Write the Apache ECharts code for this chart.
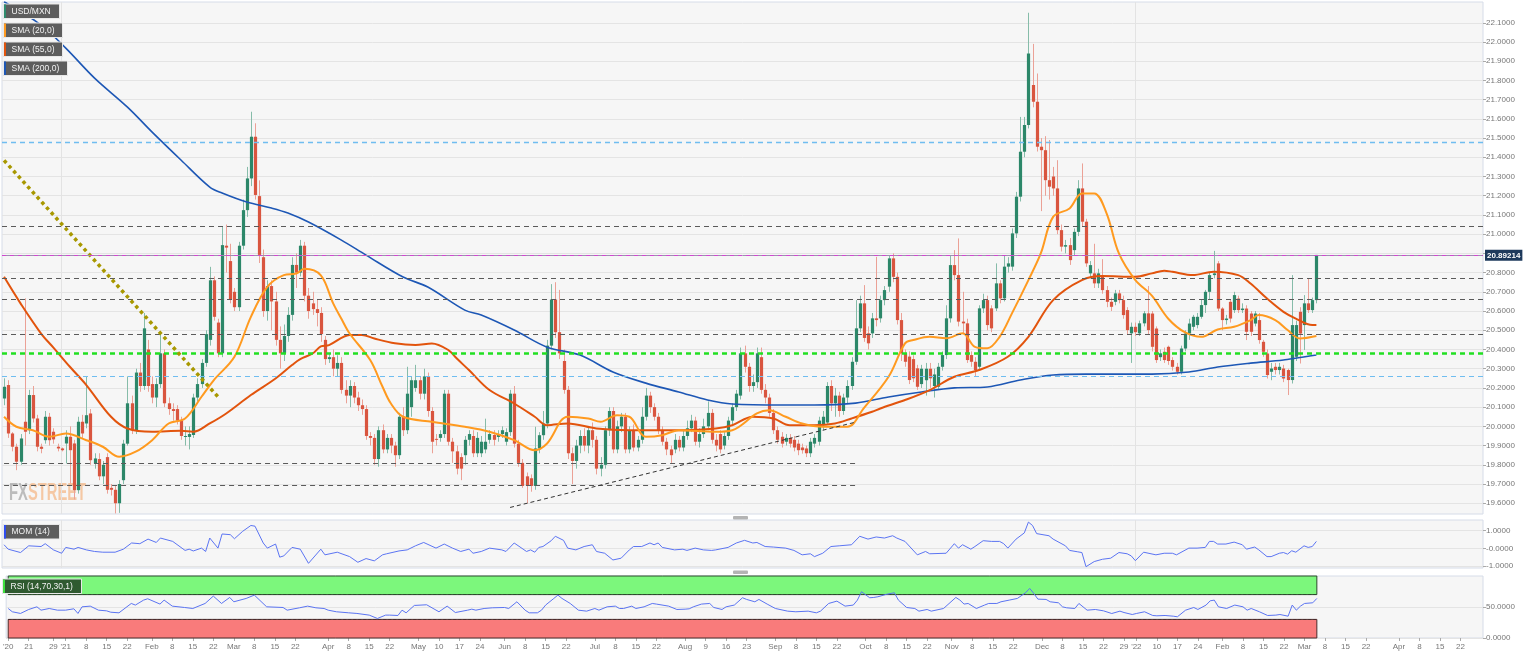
<!DOCTYPE html>
<html><head><meta charset="utf-8">
<script src="https://cdn.jsdelivr.net/npm/echarts@6/dist/echarts.min.js"></script>
<style>html,body{margin:0;padding:0;background:#fff}#c{width:1536px;height:657px}</style>
</head><body><div id="c"></div>
<script>
// ---------------- DATA ----------------
const firstDay = [2020, 11, 14]; // Dec 14 2020 (weekday categories)
const nCategories = 360;

// daily candles [open, close, low, high]
const ohlc = [
[20.145,20.206,20.11,20.25],[20.215,19.963,19.94,20.24],[19.963,19.894,19.87,19.97],[19.894,19.816,19.772,19.91],[19.816,19.937,19.80,19.96],
[20.024,19.972,19.90,20.666],[19.98,20.163,19.96,20.19],[20.163,20.041,20.02,20.21],[20.041,19.894,19.87,20.06],[19.894,19.883,19.86,19.91],
[19.928,20.05,19.91,20.08],[20.05,19.928,19.90,20.07],[19.972,19.932,19.91,19.99],[19.894,19.885,19.87,19.91],[19.885,19.876,19.87,19.89],
[19.911,19.946,19.807,19.98],[19.946,19.876,19.703,20.00],[19.911,19.668,19.62,19.93],[19.668,20.024,19.65,20.05],[20.024,19.963,19.94,20.06],
[20.015,20.058,19.99,20.258],[20.067,19.824,19.80,20.09],[19.807,19.833,19.78,19.86],[19.83,19.74,19.72,19.86],[19.74,19.80,19.70,19.82],
[19.84,19.67,19.65,19.86],[19.68,19.67,19.64,19.70],[19.67,19.60,19.547,19.69],[19.60,19.70,19.55,19.72],[19.72,19.91,19.70,19.93],
[19.91,20.12,19.90,20.26],[20.12,19.98,19.96,20.16],[19.98,20.28,19.96,20.30],[20.28,20.21,20.18,20.33],[20.21,20.51,20.19,20.59],
[20.40,20.21,20.18,20.45],[20.22,20.15,20.12,20.26],[20.15,20.22,20.10,20.25],[20.22,20.38,20.20,20.48],[20.38,20.12,20.10,20.40],
[20.12,20.09,20.06,20.15],[20.09,20.08,20.03,20.12],[20.09,20.03,20.01,20.11],[20.03,19.95,19.93,20.05],[19.95,19.95,19.90,20.00],
[19.945,19.96,19.88,20.00],[19.955,20.15,19.94,20.17],[20.15,20.22,20.13,20.25],[20.22,20.33,20.20,20.35],[20.33,20.48,20.31,20.50],
[20.45,20.76,20.42,20.83],[20.76,20.57,20.55,20.78],[20.54,20.38,20.36,20.56],[20.38,20.943,20.36,21.04],[20.94,20.93,20.80,21.05],
[20.86,20.66,20.64,20.95],[20.70,20.62,20.60,20.72],[20.62,20.94,20.60,20.96],[20.94,21.125,20.92,21.18],[21.125,21.29,21.09,21.35],
[21.29,21.507,21.25,21.637],[21.507,21.204,21.18,21.577],[21.198,20.892,20.85,21.28],[20.88,20.60,20.57,20.92],[20.60,20.73,20.55,20.76],
[20.73,20.65,20.50,20.76],[20.65,20.45,20.42,20.70],[20.45,20.38,20.30,20.52],[20.38,20.47,20.34,20.53],[20.47,20.58,20.44,20.62],
[20.58,20.84,20.55,20.88],[20.84,20.80,20.72,20.90],[20.80,20.94,20.78,20.97],[20.94,20.68,20.65,20.96],[20.68,20.60,20.56,20.72],
[20.64,20.61,20.58,20.70],[20.61,20.59,20.52,20.66],[20.59,20.48,20.44,20.62],[20.45,20.35,20.32,20.47],[20.35,20.36,20.33,20.38],
[20.36,20.30,20.26,20.40],[20.30,20.33,20.26,20.37],[20.33,20.19,20.17,20.36],[20.19,20.16,20.12,20.24],[20.16,20.21,20.10,20.24],
[20.21,20.15,20.12,20.23],[20.15,20.11,20.08,20.18],[20.11,20.09,20.06,20.14],[20.09,19.95,19.93,20.11],[19.95,19.94,19.90,19.97],
[19.94,19.83,19.80,19.96],[19.83,19.98,19.79,20.00],[19.98,19.88,19.86,20.01],[19.88,19.94,19.86,19.96],[19.94,19.90,19.86,19.96],
[19.90,19.85,19.79,19.92],[19.85,20.05,19.83,20.07],[20.05,19.98,19.95,20.10],[19.98,20.17,19.96,20.31],[20.10,20.24,20.05,20.26],
[20.20,20.24,20.18,20.32],[20.24,20.17,20.14,20.26],[20.17,20.26,20.14,20.30],[20.26,20.08,20.05,20.28],[20.08,19.92,19.86,20.10],
[19.935,19.93,19.90,19.96],[19.94,19.96,19.92,19.98],[19.96,20.17,19.94,20.19],[20.17,19.92,19.90,20.19],[19.92,19.87,19.81,19.94],
[19.87,19.78,19.75,19.90],[19.84,19.78,19.72,19.86],[19.85,19.93,19.80,19.95],[19.93,19.96,19.90,19.98],[19.95,19.86,19.84,19.98],
[19.86,19.94,19.84,19.97],[19.86,19.92,19.84,19.95],[19.88,19.92,19.86,20.04],[19.93,19.96,19.91,19.98],[19.955,19.93,19.90,19.98],
[19.945,19.96,19.92,19.98],[19.96,19.98,19.94,20.00],[19.92,19.97,19.90,19.99],[19.97,20.17,19.95,20.19],[20.17,19.91,19.89,20.21],
[19.91,19.81,19.79,19.93],[19.81,19.69,19.68,19.83],[19.74,19.69,19.60,19.76],[19.73,19.69,19.66,19.75],[19.69,19.885,19.67,19.998],
[19.885,19.954,19.86,19.97],[19.954,20.015,19.93,20.08],[20.015,20.42,19.99,20.45],[20.42,20.66,20.40,20.74],[20.66,20.49,20.46,20.75],
[20.49,20.38,20.35,20.71],[20.34,20.19,20.17,20.40],[20.19,19.86,19.83,20.21],[19.86,19.82,19.70,19.89],[19.82,19.90,19.78,19.93],
[19.90,19.95,19.86,19.98],[19.95,19.90,19.87,19.99],[19.90,19.98,19.86,20.00],[19.98,19.93,19.89,20.02],[19.93,19.78,19.75,19.95],
[19.78,19.80,19.74,19.84],[19.80,19.98,19.78,20.00],[19.98,20.08,19.95,20.10],[20.08,19.88,19.86,20.10],[19.88,20.00,19.86,20.03],
[20.00,20.05,19.97,20.07],[20.05,19.88,19.86,20.07],[19.88,19.98,19.86,20.00],[19.98,19.89,19.87,20.01],[19.89,19.93,19.87,19.95],
[19.93,20.05,19.91,20.10],[20.05,20.16,20.03,20.20],[20.16,20.10,20.07,20.18],[20.10,20.05,20.03,20.12],[20.05,19.98,19.96,20.07],
[19.98,19.92,19.90,20.00],[19.92,19.88,19.85,19.94],[19.88,19.85,19.81,19.90],[19.88,19.93,19.86,19.96],[19.93,19.89,19.87,19.95],
[19.89,19.95,19.87,19.98],[19.95,19.99,19.93,20.03],[19.99,20.03,19.97,20.06],[20.03,19.92,19.90,20.05],[19.92,19.96,19.89,19.99],
[19.96,20.00,19.94,20.04],[20.00,20.07,19.98,20.13],[20.07,19.93,19.91,20.09],[19.93,19.90,19.87,19.96],[19.96,19.88,19.86,19.98],
[19.90,19.95,19.88,19.97],[19.95,20.03,19.93,20.05],[20.03,20.10,20.01,20.12],[20.10,20.17,20.08,20.19],[20.16,20.38,20.14,20.41],
[20.38,20.31,20.28,20.42],[20.31,20.21,20.18,20.33],[20.21,20.23,20.18,20.27],[20.23,20.38,20.20,20.41],[20.36,20.19,20.17,20.41],
[20.19,20.15,20.12,20.22],[20.15,20.07,20.05,20.17],[20.07,19.98,19.96,20.09],[19.98,19.93,19.91,20.00],[19.946,19.91,19.89,19.97],
[19.92,19.94,19.90,19.96],[19.94,19.91,19.89,19.96],[19.93,19.89,19.87,19.95],[19.91,19.876,19.85,19.93],[19.89,19.876,19.858,19.91],
[19.885,19.86,19.84,19.90],[19.86,19.92,19.84,19.94],[19.91,19.94,19.89,19.96],[19.92,20.03,19.90,20.05],[20.01,20.05,19.98,20.08],
[20.02,20.21,20.01,20.23],[20.21,20.12,20.08,20.24],[20.12,20.16,20.05,20.20],[20.16,20.08,20.05,20.18],[20.08,20.15,20.06,20.17],
[20.15,20.21,20.12,20.24],[20.21,20.336,20.19,20.36],[20.336,20.51,20.32,20.657],[20.51,20.64,20.49,20.68],[20.64,20.46,20.44,20.735],
[20.484,20.432,20.40,20.52],[20.484,20.562,20.46,20.59],[20.562,20.553,20.52,20.882],[20.562,20.657,20.54,20.68],[20.657,20.709,20.63,20.73],
[20.727,20.874,20.70,20.89],[20.874,20.778,20.75,20.90],[20.778,20.553,20.53,20.80],[20.553,20.38,20.34,20.59],[20.38,20.336,20.31,20.40],
[20.363,20.241,20.22,20.39],[20.35,20.25,20.23,20.37],[20.302,20.206,20.19,20.32],[20.22,20.30,20.20,20.32],[20.24,20.30,20.16,20.33],
[20.30,20.25,20.20,20.33],[20.21,20.27,20.15,20.30],[20.206,20.31,20.19,20.33],[20.31,20.371,20.29,20.39],[20.371,20.562,20.35,20.63],
[20.562,20.839,20.54,20.891],[20.839,20.787,20.76,20.917],[20.787,20.545,20.52,20.978],[20.545,20.536,20.48,20.70],[20.536,20.345,20.33,20.56],
[20.371,20.336,20.31,20.39],[20.336,20.293,20.258,20.36],[20.31,20.614,20.29,20.63],[20.614,20.657,20.59,20.69],[20.657,20.527,20.50,20.68],
[20.614,20.51,20.49,20.63],[20.614,20.744,20.60,20.848],[20.744,20.666,20.64,20.76],[20.666,20.831,20.65,20.891],[20.831,20.848,20.80,20.88],
[20.831,21.004,20.81,21.03],[21.004,21.195,20.98,21.22],[21.195,21.429,21.17,21.61],[21.429,21.568,21.40,21.61],[21.568,21.94,21.55,22.152],
[21.776,21.689,21.66,21.99],[21.689,21.455,21.43,21.836],[21.455,21.437,21.12,21.50],[21.437,21.281,21.20,21.51],[21.281,21.247,21.18,21.49],
[21.30,21.238,21.20,21.35],[21.238,21.021,21.00,21.385],[21.021,20.935,20.91,21.05],[20.935,20.943,20.90,20.97],[20.943,20.865,20.84,20.98],
[20.917,21.012,20.89,21.03],[21.012,21.238,20.99,21.281],[21.238,21.065,21.04,21.368],[21.065,20.848,20.83,21.08],[20.796,20.839,20.77,20.86],
[20.796,20.744,20.72,20.95],[20.744,20.796,20.72,20.82],[20.787,20.709,20.69,20.87],[20.709,20.648,20.62,20.73],[20.648,20.622,20.60,20.67],
[20.648,20.692,20.63,20.71],[20.692,20.657,20.64,20.71],[20.657,20.579,20.56,20.68],[20.605,20.501,20.48,20.62],[20.484,20.518,20.33,20.54],
[20.518,20.49,20.47,20.54],[20.484,20.536,20.47,20.55],[20.536,20.588,20.52,20.60],[20.588,20.501,20.48,20.73],[20.587,20.414,20.39,20.60],
[20.509,20.345,20.33,20.52],[20.36,20.38,20.34,20.40],[20.388,20.345,20.33,20.41],[20.414,20.34,20.32,20.42],[20.345,20.31,20.29,20.36],
[20.31,20.284,20.27,20.33],[20.284,20.405,20.27,20.42],[20.405,20.483,20.39,20.50],[20.483,20.535,20.45,20.56],[20.518,20.57,20.50,20.58],
[20.527,20.57,20.51,20.59],[20.57,20.631,20.56,20.66],[20.631,20.70,20.59,20.71],[20.70,20.787,20.66,20.80],[20.787,20.796,20.77,20.913],
[20.848,20.613,20.60,20.86],[20.613,20.553,20.50,20.62],[20.553,20.561,20.53,20.58],[20.648,20.561,20.54,20.66],[20.605,20.683,20.59,20.70],
[20.665,20.605,20.59,20.68],[20.605,20.613,20.59,20.64],[20.613,20.492,20.449,20.63],[20.587,20.492,20.47,20.60],[20.535,20.587,20.52,20.60],
[20.553,20.449,20.43,20.59],[20.44,20.388,20.362,20.45],[20.379,20.267,20.249,20.40],[20.284,20.301,20.24,20.33],[20.31,20.293,20.27,20.33],
[20.293,20.31,20.27,20.33],[20.301,20.249,20.23,20.32],[20.293,20.241,20.163,20.30],[20.241,20.527,20.223,20.787],[20.362,20.527,20.34,20.55],
[20.596,20.483,20.327,20.62],[20.527,20.64,20.397,20.683],[20.64,20.605,20.59,20.77],[20.605,20.657,20.59,20.67],[20.657,20.892,20.64,20.892]
];

// moving averages: [dayIndex, value]
const sma20 = [[0,20.05],[3,19.998],[7,19.98],[11,19.946],[15,19.963],[20,19.928],[24,19.894],[28,19.842],[32,19.868],[36,19.928],[40,20.015],[44,20.041],[48,20.154],[51,20.241],[56,20.362],[60,20.57],[64,20.726],[68,20.787],[71,20.795],[73,20.82],[77,20.786],[80,20.64],[82,20.56],[84,20.483],[89,20.345],[92,20.206],[94,20.12],[97,20.05],[104,20.024],[112,19.998],[118,19.972],[124,19.928],[129,19.876],[132,19.911],[137,20.05],[142,20.041],[145,20.024],[149,20.058],[152,20.05],[156,19.946],[160,19.954],[164,19.98],[173,19.972],[177,19.98],[183,20.067],[186,20.084],[190,20.05],[194,20.015],[199,19.998],[205,19.998],[209,20.095],[215,20.258],[219,20.432],[221,20.449],[225,20.466],[229,20.458],[233,20.484],[236,20.414],[239,20.406],[242,20.466],[245,20.588],[249,20.761],[252,20.9],[255,21.09],[259,21.134],[262,21.212],[265,21.212],[268,21.108],[271,20.9],[275,20.761],[279,20.68],[283,20.56],[287,20.49],[291,20.466],[295,20.504],[299,20.518],[303,20.553],[305,20.579],[309,20.553],[312,20.501],[315,20.457],[319,20.47]];
const sma55 = [[0,20.778],[4,20.64],[9,20.483],[12,20.41],[16,20.31],[20,20.215],[26,20.05],[30,19.989],[36,19.972],[43,19.977],[46,19.972],[50,20.015],[54,20.067],[60,20.163],[66,20.249],[70,20.319],[72,20.35],[75,20.379],[77,20.416],[79,20.423],[84,20.475],[87,20.476],[90,20.457],[95,20.432],[100,20.423],[104,20.431],[108,20.397],[110,20.354],[113,20.293],[118,20.189],[124,20.119],[129,20.05],[132,20.006],[137,20.015],[144,19.989],[152,19.98],[165,19.98],[173,19.989],[177,20.006],[182,20.05],[187,20.041],[191,20.006],[197,20.006],[202,20.015],[206,20.041],[211,20.076],[213,20.093],[219,20.137],[225,20.189],[231,20.258],[237,20.293],[244,20.362],[249,20.466],[255,20.657],[262,20.761],[267,20.782],[275,20.778],[279,20.796],[282,20.81],[284,20.804],[289,20.787],[294,20.805],[300,20.787],[303,20.743],[307,20.665],[311,20.596],[314,20.561],[318,20.527],[319,20.527]];
const sma200 = [[0,22.209],[9,22.088],[15,21.968],[22,21.812],[30,21.661],[36,21.531],[43,21.386],[50,21.245],[53,21.214],[59,21.167],[65,21.136],[69,21.11],[74,21.063],[82,20.969],[88,20.891],[97,20.777],[103,20.725],[112,20.605],[116,20.579],[124,20.501],[132,20.412],[140,20.371],[148,20.283],[156,20.225],[164,20.179],[171,20.137],[177,20.116],[189,20.111],[197,20.111],[207,20.121],[215,20.153],[223,20.179],[231,20.2],[239,20.205],[247,20.241],[255,20.267],[263,20.272],[271,20.272],[279,20.272],[288,20.283],[295,20.309],[303,20.329],[311,20.345],[319,20.371]];

// oscillators: [dayIndex, value]
const mom14 = [[0,0.2],[1,-0.05],[4,-0.24],[6,0.14],[9,0.10],[10,0.26],[12,-0.09],[14,-0.28],[15,0.05],[17,-0.05],[18,0.05],[20,-0.09],[22,-0.18],[24,-0.22],[27,-0.22],[29,-0.05],[31,0.30],[33,0.26],[35,0.52],[37,0.33],[38,0.58],[41,0.39],[44,-0.12],[45,-0.05],[46,-0.15],[48,0.01],[49,-0.18],[50,0.58],[52,0.01],[53,0.81],[55,0.77],[56,0.54],[58,0.96],[60,1.29],[61,1.25],[63,0.30],[64,0.01],[66,0.24],[67,-0.50],[68,-0.43],[70,0.05],[72,-0.05],[74,-0.85],[77,-0.05],[78,-0.37],[81,-0.22],[84,-0.47],[86,-0.79],[88,-0.58],[90,-0.71],[92,-0.37],[93,-0.31],[96,-0.15],[98,-0.09],[100,0.14],[102,0.33],[105,0.01],[107,0.24],[109,0.01],[111,-0.18],[113,-0.05],[114,-0.28],[116,-0.18],[118,0.01],[121,-0.09],[122,-0.18],[124,0.30],[127,-0.18],[128,-0.09],[129,-0.22],[130,0.05],[131,0.10],[133,0.43],[134,0.68],[136,0.45],[137,0.01],[139,-0.09],[141,0.10],[143,0.20],[144,-0.18],[146,-0.28],[148,-0.66],[150,-0.56],[152,-0.09],[153,0.10],[155,0.10],[157,0.30],[158,0.20],[159,0.30],[160,0.05],[163,-0.09],[165,-0.05],[166,-0.12],[168,0.01],[170,-0.09],[172,-0.12],[173,-0.09],[176,0.05],[178,0.30],[180,0.45],[182,0.30],[183,0.33],[185,0.10],[187,0.07],[190,0.01],[192,-0.12],[194,-0.37],[196,-0.31],[197,-0.47],[199,-0.28],[201,0.10],[203,0.14],[206,0.20],[208,0.68],[210,0.52],[212,0.64],[214,0.58],[216,0.71],[217,0.58],[219,0.39],[222,-0.37],[224,-0.18],[225,-0.31],[229,-0.28],[231,0.26],[232,0.01],[233,0.20],[235,-0.05],[236,0.10],[238,0.43],[240,0.39],[242,0.39],[243,0.26],[244,0.01],[246,0.52],[248,0.87],[249,1.48],[250,1.29],[251,0.83],[254,0.71],[255,0.52],[258,0.14],[259,-0.12],[261,-0.20],[262,-0.24],[263,-1.04],[265,-0.75],[267,-0.62],[269,-0.56],[271,-0.24],[273,-0.31],[274,-0.43],[275,-0.70],[277,-0.22],[280,-0.37],[282,-0.28],[284,-0.28],[285,-0.37],[288,0.01],[290,0.01],[292,0.05],[293,0.39],[294,0.39],[295,0.24],[297,0.24],[299,0.35],[301,0.20],[302,-0.05],[304,0.07],[305,-0.09],[307,-0.47],[308,-0.47],[310,-0.28],[311,-0.24],[312,-0.33],[313,-0.14],[314,-0.22],[316,0.14],[317,0.05],[318,0.10],[319,0.39]];
const rsi14 = [[0,47.6],[1,42.3],[3,39.6],[5,46.0],[7,50.3],[8,44.9],[10,47.6],[12,44.9],[14,44.9],[16,47.1],[17,39.6],[18,50.3],[20,51.4],[22,44.9],[24,43.8],[25,41.6],[27,40.6],[30,55.7],[31,53.1],[33,61.1],[34,63.3],[37,54.7],[38,61.1],[40,51.4],[43,49.2],[45,47.6],[48,55.7],[50,67.6],[52,55.7],[54,65.4],[55,58.4],[58,63.8],[60,69.2],[63,50.3],[67,49.2],[68,44.9],[71,48.7],[73,51.4],[75,48.7],[77,47.6],[78,44.9],[80,42.3],[83,40.6],[85,39.6],[88,36.9],[90,31.5],[92,36.9],[93,36.9],[95,36.3],[96,44.9],[97,40.6],[99,52.5],[102,53.6],[105,42.3],[107,51.4],[109,41.1],[112,44.9],[113,46.5],[114,44.9],[116,47.6],[118,48.7],[121,49.2],[122,47.6],[124,58.4],[126,44.9],[127,40.6],[129,40.6],[130,44.9],[131,53.1],[133,63.8],[134,69.2],[135,63.8],[137,55.7],[139,44.9],[141,43.3],[143,47.6],[144,44.9],[146,50.3],[148,51.4],[149,47.6],[150,47.6],[152,51.4],[153,47.6],[155,50.3],[157,55.7],[158,54.7],[161,51.4],[163,46.0],[165,46.5],[166,47.1],[167,50.3],[169,54.7],[171,55.7],[172,49.2],[174,46.0],[175,50.3],[177,53.1],[179,64.9],[180,62.2],[182,58.4],[183,62.2],[185,54.7],[187,47.6],[190,43.3],[192,42.3],[195,43.3],[197,40.6],[198,43.3],[200,55.7],[202,59.5],[204,51.4],[206,53.1],[207,61.1],[208,74.6],[210,64.9],[211,65.4],[212,66.5],[214,70.3],[216,73.0],[217,61.1],[219,49.2],[221,47.6],[222,43.3],[224,46.0],[225,43.3],[228,47.6],[231,65.4],[232,61.1],[233,54.7],[234,55.7],[236,47.6],[238,53.1],[239,55.7],[241,55.7],[242,58.4],[244,61.1],[246,63.8],[248,73.0],[249,80.0],[250,71.9],[251,62.7],[253,62.2],[254,58.4],[256,56.8],[257,50.3],[258,48.7],[260,47.6],[261,55.7],[263,44.9],[265,46.0],[267,43.8],[269,39.5],[271,43.3],[272,41.1],[274,37.9],[275,39.5],[277,42.3],[279,36.3],[280,35.8],[282,36.3],[284,35.2],[285,34.2],[287,44.9],[289,49.2],[290,46.0],[292,53.1],[293,60.0],[294,61.1],[295,50.3],[297,47.6],[299,53.1],[301,50.3],[302,44.9],[303,47.6],[305,42.3],[307,36.3],[309,36.9],[310,37.9],[312,35.2],[313,53.1],[314,44.9],[315,51.4],[316,55.7],[318,56.8],[319,63.8]];

// horizontal levels and trend lines
const levelsFull = [21.481, 21.044, 20.775, 20.664, 20.482, 20.383, 20.263];
const levelsShort = [19.809, 19.696];
const lastPrice = 20.89214;
const trendDown = [[0, 21.384], [52, 20.154]];
const trendUp = [[123, 19.578], [207, 20.022]];
const yearStarts = [14, 275];

// axis tick labels
const priceTicks = [19.6,19.7,19.8,19.9,20.0,20.1,20.2,20.3,20.4,20.5,20.6,20.7,20.8,20.9,21.0,21.1,21.2,21.3,21.4,21.5,21.6,21.7,21.8,21.9,22.0,22.1];
const momTicks = [-1, 0, 1];
const rsiTicks = [0, 50];
const xLabels = [[0,"'20"],[5,"21"],[11,"29"],[14,"'21"],[19,"8"],[24,"15"],[29,"22"],[35,"Feb"],[40,"8"],[45,"15"],[50,"22"],[55,"Mar"],[60,"8"],[65,"15"],[70,"22"],[78,"Apr"],[83,"8"],[88,"15"],[93,"22"],[100,"May"],[105,"10"],[110,"17"],[115,"24"],[121,"Jun"],[126,"8"],[131,"15"],[136,"22"],[143,"Jul"],[148,"8"],[153,"15"],[158,"22"],[165,"Aug"],[170,"9"],[175,"16"],[180,"23"],[187,"Sep"],[192,"8"],[197,"15"],[202,"22"],[209,"Oct"],[214,"8"],[219,"15"],[224,"22"],[230,"Nov"],[235,"8"],[240,"15"],[245,"22"],[252,"Dec"],[257,"8"],[262,"15"],[267,"22"],[272,"29"],[275,"'22"],[280,"10"],[285,"17"],[290,"24"],[296,"Feb"],[301,"8"],[306,"15"],[311,"22"],[316,"Mar"],[321,"8"],[326,"15"],[331,"22"],[339,"Apr"],[344,"8"],[349,"15"],[354,"22"]];

// ---------------- CHART ----------------
const cats = [];
{ const d = new Date(Date.UTC(firstDay[0], firstDay[1], firstDay[2]));
  while (cats.length < nCategories) { const wd = d.getUTCDay(); if (wd > 0 && wd < 6) cats.push(d.toISOString().slice(0, 10)); d.setUTCDate(d.getUTCDate() + 1); } }
const labelMap = {}; xLabels.forEach(([i, t]) => { labelMap[i] = t; });
const lastIdx = ohlc.length - 1;

const FONT = 'Liberation Sans, Arial, sans-serif';
const UP = '#2c8769', DN = '#d9553f', UPW = '#86bca9', DNW = '#eba196';
const gridStyle = { show: true, backgroundColor: '#f6f6f6', borderColor: '#d6dce8', borderWidth: 1, left: 2, right: 53 };

const xAxes = [0, 1, 2].map(k => ({
  type: 'category', gridIndex: k, data: cats, boundaryGap: true,
  axisLine: { show: false },
  axisTick: { show: k === 2, alignWithLabel: true, length: 3, lineStyle: { color: '#aaa' }, interval: (i) => labelMap[i] !== undefined },
  axisLabel: { show: k === 2, interval: (i) => labelMap[i] !== undefined, formatter: (v, i) => labelMap[i] || '', color: '#777', fontSize: 8, fontFamily: FONT, margin: 5, showMinLabel: true, showMaxLabel: true, hideOverlap: false },
  splitLine: { show: false }
}));

function yAx(k, min, max, ticks, fmt) {
  return {
    type: 'value', gridIndex: k, position: 'right', min, max,
    axisLine: { show: false },
    axisTick: { show: true, length: 3, lineStyle: { color: '#aaa' }, customValues: ticks },
    axisLabel: { color: '#777', fontSize: 8, fontFamily: FONT, margin: 3, customValues: ticks, formatter: fmt },
    splitLine: { show: true, lineStyle: { color: '#e4e4e4', width: 1 } }
  };
}

const candleData = ohlc.map((d, i) => [i, d[0], d[1], d[2], d[3]]);

const dashGray = { color: '#5a5a5a', width: 1.2, type: [5, 4] };
const levelLines = [
  { yAxis: levelsFull[0], lineStyle: { color: '#6fbdf0', width: 1.3, type: [5, 4] } },
  { yAxis: levelsFull[1], lineStyle: dashGray },
  { yAxis: levelsFull[2], lineStyle: dashGray },
  { yAxis: levelsFull[3], lineStyle: dashGray },
  { yAxis: levelsFull[4], lineStyle: dashGray },
  { yAxis: levelsFull[5], lineStyle: { color: '#22e022', width: 2.6, type: [5, 4] } },
  { yAxis: levelsFull[6], lineStyle: { color: '#6fbdf0', width: 1.2, type: [5, 4] } },
  [{ coord: [0, levelsShort[0]], lineStyle: dashGray }, { coord: [207, levelsShort[0]] }],
  [{ coord: [0, levelsShort[1]], lineStyle: dashGray }, { coord: [207, levelsShort[1]] }],
  [{ coord: trendDown[0], lineStyle: { color: '#a89800', width: 3.5, type: [3.5, 3.5] } }, { coord: trendDown[1] }],
  [{ coord: trendUp[0], lineStyle: { color: '#333', width: 1, type: [4, 3] } }, { coord: trendUp[1] }],
  { yAxis: lastPrice, lineStyle: { color: '#9d8fb0', width: 1, type: 'solid' } },
  { yAxis: lastPrice, lineStyle: { color: '#d048d0', width: 1, type: [4, 4] },
    label: { show: true, position: 'end', distance: 2, formatter: '20.89214', color: '#fff', fontWeight: 'bold', fontSize: 8, fontFamily: FONT, backgroundColor: '#1e3a5c', padding: [2, 2, 1, 2] } }
];

function tag(x, y, w, text, stripe, bg) {
  return { type: 'group', left: x, top: y, z: 100, children: [
    { type: 'rect', z: 100, shape: { x: 0, y: 0, width: w, height: 14.5 }, style: { fill: bg, stroke: '#e8e8e8', lineWidth: 1 } },
    { type: 'rect', z: 101, shape: { x: 0.5, y: 0.5, width: 2, height: 13.5 }, style: { fill: stripe } },
    { type: 'text', z: 102, x: 8, y: 3, style: { text, fill: '#f2f2f2', font: '8.5px ' + FONT } }
  ] };
}

const option = {
  animation: false,
  textStyle: { fontFamily: FONT },
  grid: [
    Object.assign({ top: 2, height: 512 }, gridStyle),
    Object.assign({ top: 520, height: 48 }, gridStyle),
    Object.assign({ top: 576, height: 62 }, gridStyle)
  ],
  xAxis: xAxes,
  yAxis: [
    yAx(0, 19.544, 22.208, priceTicks, v => v.toFixed(4)),
    yAx(1, -1.114, 1.6, momTicks, v => (v === 0 ? '-0.0000' : v.toFixed(4))),
    yAx(2, 0, 100, rsiTicks, v => v.toFixed(4))
  ],
  graphic: [
    { type: 'text', left: 9, top: 482, z: 1, scaleX: 0.64, style: { text: 'FX', fill: 'rgba(140,140,140,0.55)', font: 'bold 23px ' + FONT } },
    { type: 'text', left: 28, top: 482, z: 1, scaleX: 0.64, style: { text: 'STREET', fill: 'rgba(245,170,110,0.6)', font: 'bold 23px ' + FONT } },
    tag(3, 3.5, 56, 'USD/MXN', '#2e8b6e', '#5d5d5d'),
    tag(3, 22.5, 59, 'SMA (20,0)', '#ff9a1f', '#5d5d5d'),
    tag(3, 41.5, 59, 'SMA (55,0)', '#e2540d', '#5d5d5d'),
    tag(3, 60.5, 64, 'SMA (200,0)', '#1d57b5', '#5d5d5d'),
    tag(3, 524, 56, 'MOM (14)', '#2f4df0', '#5d5d5d'),
    tag(2, 578.5, 79, 'RSI (14,70,30,1)', '#3ee03e', '#2f5a30'),
    { type: 'rect', left: 733, top: 516, z: 50, shape: { width: 15, height: 3.5, r: 1 }, style: { fill: '#b4b4b4' } },
    { type: 'rect', left: 733, top: 570.5, z: 50, shape: { width: 15, height: 3.5, r: 1 }, style: { fill: '#b4b4b4' } }
  ],
  series: [
    {
      type: 'custom', name: 'USD/MXN', xAxisIndex: 0, yAxisIndex: 0, z: 2, clip: true,
      data: candleData, encode: { x: 0, y: [1, 2, 3, 4] },
      renderItem: (params, api) => {
        const i = api.value(0), o = api.value(1), c = api.value(2), l = api.value(3), h = api.value(4);
        const pO = api.coord([i, o]), pC = api.coord([i, c]), pL = api.coord([i, l]), pH = api.coord([i, h]);
        const w = Math.max(1, api.size([1, 0])[0] * 0.78);
        const up = c >= o;
        const cx = Math.round(pO[0]) + 0.5;
        const top = Math.min(pO[1], pC[1]), bot = Math.max(pO[1], pC[1]);
        return { type: 'group', children: [
          { type: 'line', shape: { x1: cx, y1: pH[1], x2: cx, y2: pL[1] }, style: { stroke: up ? UPW : DNW, lineWidth: 1 } },
          { type: 'rect', shape: { x: cx - w / 2, y: top, width: w, height: Math.max(1, bot - top) }, style: { fill: up ? UP : DN } }
        ] };
      },
      markLine: { silent: true, z: 1, symbol: ['none', 'none'], label: { show: false },
        lineStyle: { color: '#e3e3e3', width: 1, type: 'solid' },
        data: yearStarts.map(i => ({ xAxis: i })) }
    },
    {
      type: 'line', name: 'SMA (200,0)', xAxisIndex: 0, yAxisIndex: 0, z: 3, data: sma200, smooth: 0.35, showSymbol: false,
      lineStyle: { color: '#1d57b5', width: 1.6 },
      markLine: { silent: true, z: 6, symbol: ['none', 'none'], label: { show: false }, data: levelLines }
    },
    { type: 'line', name: 'SMA (55,0)', xAxisIndex: 0, yAxisIndex: 0, z: 3, data: sma55, smooth: 0.35, showSymbol: false, lineStyle: { color: '#e2540d', width: 2 } },
    { type: 'line', name: 'SMA (20,0)', xAxisIndex: 0, yAxisIndex: 0, z: 3, data: sma20, smooth: 0.35, showSymbol: false, lineStyle: { color: '#ff9a1f', width: 2 } },
    {
      type: 'line', name: 'MOM (14)', xAxisIndex: 1, yAxisIndex: 1, data: mom14, showSymbol: false, lineStyle: { color: '#5b74f2', width: 1 },
      markLine: { silent: true, z: 1, symbol: ['none', 'none'], label: { show: false }, lineStyle: { color: '#e3e3e3', width: 1, type: 'solid' }, data: yearStarts.map(i => ({ xAxis: i })) }
    },
    {
      type: 'line', name: 'RSI', xAxisIndex: 2, yAxisIndex: 2, z: 3, data: rsi14, showSymbol: false, lineStyle: { color: '#5b74f2', width: 1 },
      markArea: { silent: true, z: 1, data: [
        [{ xAxis: 0, yAxis: 70, itemStyle: { color: '#7cf77c', borderColor: '#2c4a2c', borderWidth: 1 } }, { xAxis: lastIdx, yAxis: 100 }],
        [{ xAxis: 0, yAxis: 0, itemStyle: { color: '#f97b7b', borderColor: '#4a2c2c', borderWidth: 1 } }, { xAxis: lastIdx, yAxis: 30 }]
      ] },
      markLine: { silent: true, z: 2, symbol: ['none', 'none'], label: { show: false }, data: [
        [{ coord: [0, 70], lineStyle: { color: '#2c4a2c', width: 1, type: [3, 2] } }, { coord: [lastIdx, 70] }],
        [{ coord: [0, 30], lineStyle: { color: '#4a2c2c', width: 1, type: [3, 2] } }, { coord: [lastIdx, 30] }]
      ] }
    }
  ]
};
const chart = echarts.init(document.getElementById('c'));
chart.setOption(option);
</script>
</body></html>
